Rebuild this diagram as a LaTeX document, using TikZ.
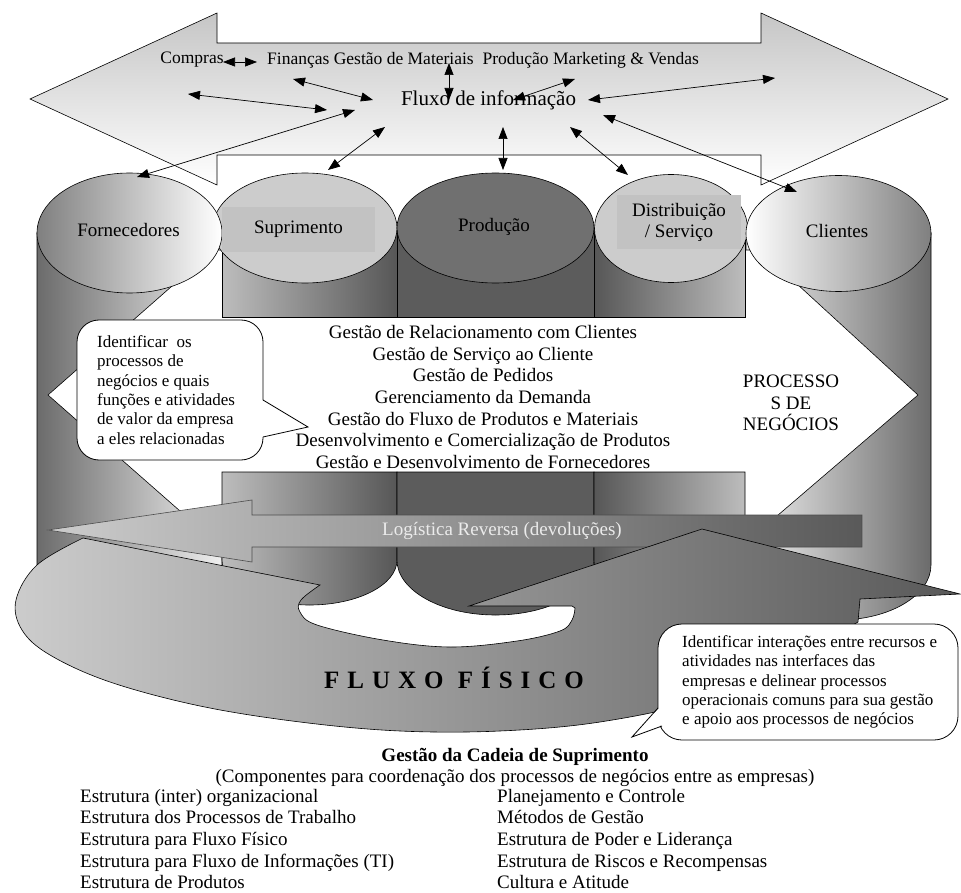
\documentclass[tikz,border=0pt]{standalone}
\usepackage{fontspec}
\setmainfont{Liberation Serif}
\usetikzlibrary{arrows.meta}

\definecolor{fornDark}{gray}{0.42}
\definecolor{fornLight}{gray}{0.94}
\definecolor{topDark}{gray}{0.50}
\definecolor{lightTop}{gray}{0.80}
\definecolor{labelBox}{gray}{0.76}
\definecolor{prodTop}{gray}{0.44}
\definecolor{prodBody}{gray}{0.36}
\definecolor{bodyLight}{gray}{0.74}
\definecolor{bodyDark}{gray}{0.34}
\definecolor{flowLight}{gray}{0.80}
\definecolor{flowDark}{gray}{0.35}

\begin{document}
\begin{tikzpicture}[x=1pt,y=-1pt,
  outl/.style={draw=black, line width=0.6pt},
  flow/.style={{Triangle[length=12pt,width=9pt]}-{Triangle[length=12pt,width=9pt]}, line width=0.7pt},
  bubble/.style={draw=black, fill=white, line width=0.8pt},
  lbl/.style={font=\fontsize{19}{21.7}\selectfont, inner sep=0pt},
  note/.style={font=\fontsize{17}{19.3}\selectfont, inner sep=0pt, align=left, anchor=west}]
\useasboundingbox (0,0) rectangle (961,893);

\path[outl, top color=gray!45, bottom color=white]
  (30,99) -- (217,13) -- (217,43) -- (761,43) -- (761,13) -- (948,99)
  -- (761,185) -- (761,155) -- (217,155) -- (217,185) -- cycle;

\path[outl, left color=fornDark, right color=fornLight]
  (37,233) -- (37,565) arc[start angle=180, end angle=0, x radius=92.5, y radius=55] -- (222,233) -- cycle;
\path[outl, left color=fornLight, right color=fornDark]
  (746,233) -- (746,565) arc[start angle=180, end angle=0, x radius=92.5, y radius=55] -- (931,233) -- cycle;

\path[outl, fill=white] (48,395) -- (213,250) -- (760,250) -- (918,395) -- (749,540) -- (213,540) -- cycle;

\path[outl, left color=bodyLight, right color=bodyDark] (222,228) rectangle (397,317);
\path[outl, fill=prodBody] (397,228) rectangle (594,317);
\path[outl, left color=bodyDark, right color=bodyLight] (594,228) rectangle (745,317);
\path[outl, fill=lightTop] (305,228) ellipse[x radius=92, y radius=55];
\path[outl, fill=prodTop] (495.5,228) ellipse[x radius=98.5, y radius=55];
\path[outl, fill=lightTop] (671,228.5) ellipse[x radius=76.5, y radius=54];

\path[outl, left color=bodyLight, right color=bodyDark]
  (222,472) -- (222,560) arc[start angle=180, end angle=0, x radius=87.5, y radius=45] -- (397,472) -- cycle;
\path[outl, fill=prodBody]
  (397,472) -- (397,560) arc[start angle=180, end angle=0, x radius=98.5, y radius=55] -- (594,472) -- cycle;
\path[outl, left color=bodyDark, right color=bodyLight]
  (594,472) -- (594,560) arc[start angle=180, end angle=0, x radius=75.5, y radius=48] -- (745,472) -- cycle;

\path[outl, left color=topDark, right color=white] (129.5,233) ellipse[x radius=92.5, y radius=60];
\path[outl, left color=white, right color=topDark] (838.5,233.5) ellipse[x radius=92.5, y radius=58];

\node[lbl] (forn) at (128.5,230) {Fornecedores};
\node[lbl, fill=labelBox, minimum width=153pt, minimum height=45pt] (supr) at (298.5,229.5) {Suprimento};
\node[lbl] (prod) at (494,227) {Produção};
\node[lbl, fill=labelBox, minimum width=124pt, minimum height=54pt, align=center] (dist) at (679,222.5) {Distribuição\\/ Serviço};
\node[lbl] (clie) at (837,231) {Clientes};

\path[draw=black!70, line width=0.6pt, left color=flowLight, right color=flowDark]
  (48,530) -- (252,500) -- (252,515) -- (862,515) -- (862,547) -- (252,547) -- (252,562) -- cycle;
\node[lbl, text=white!92!black] (logistica) at (502,531) {Logística Reversa (devoluções)};

\path[outl, left color=flowLight, right color=flowDark]
  plot[smooth, tension=0.6] coordinates {(83,538) (37,565) (16,600) (22,630) (50,655) (110,682) (200,706)
    (300,722) (400,731) (500,731) (600,722) (700,700) (790,660) (858,622)}
  -- (860,599) -- (960,594) -- (702,529) -- (469,606) -- (572,606)
  -- plot[smooth, tension=0.6] coordinates {(575,608) (572,620) (560,631) (517,641) (450,647) (383,640)
    (317,625) (300,612) (301,600) (320,585)} -- cycle;
\node[font=\fontsize{25}{30}\selectfont\bfseries\addfontfeatures{LetterSpace=32}, inner sep=0pt] (fisico) at (454,678) {FLUXO FÍSICO};

\path[bubble, rounded corners=22] (77,320) rectangle (263,460);
\fill[white] (262,400) -- (308,427) -- (262,437) -- cycle;
\draw[line width=0.8pt] (263,400) -- (308,427) -- (263,437);
\node[note] (notaA) at (97,390) {Identificar\ \ os\\processos de\\negócios e quais\\funções e atividades\\de valor da empresa\\a eles relacionadas};

\path[bubble, rounded corners=24] (658,624) rectangle (958,740);
\fill[white] (659,708) -- (632,737) -- (662,725) -- (659,716) -- cycle;
\draw[line width=0.8pt] (658,708) -- (632,737) -- (662,726);
\node[note] (notaB) at (682,682) {Identificar interações entre recursos e\\atividades nas interfaces das\\empresas e delinear processos\\operacionais comuns para sua gestão\\e apoio aos processos de negócios};

\node[lbl, align=center] (processos) at (483,397) {Gestão de Relacionamento com Clientes\\Gestão de Serviço ao Cliente\\Gestão de Pedidos\\Gerenciamento da Demanda\\Gestão do Fluxo de Produtos e Materiais\\Desenvolvimento e Comercialização de Produtos\\Gestão e Desenvolvimento de Fornecedores};
\node[lbl, align=center] (negocios) at (791,403) {PROCESSO\\S DE\\NEGÓCIOS};

\node[font=\fontsize{17.5}{20}\selectfont, inner sep=0pt] (compras) at (192,60) {Compras};
\node[font=\fontsize{17.5}{20}\selectfont, inner sep=0pt] (areas) at (483,60) {Finanças Gestão de Materiais~ Produção Marketing \& Vendas};
\node[font=\fontsize{21}{24}\selectfont, inner sep=0pt] (fluxo) at (488.5,100) {Fluxo de informação};

\foreach \n/\ax/\ay/\bx/\by in {cmp/223/62/257/62, fa/188/94/327/110, fb/293/79/373/100, fc/449/63/449/100,
    fd/575/79/513/100, fe/775/78/588/100, ff/355/110/137/177, fg/385/127/328/170,
    fh/503/127/503/170, fi/570/127/628/175, fj/603/115/797/192}
{
  \coordinate (\n1) at (\ax,\ay);
  \coordinate (\n2) at (\bx,\by);
  \draw[flow] (\n1) -- (\n2);
}

\node[font=\fontsize{19}{22}\selectfont\bfseries, inner sep=0pt] (gcs) at (515,757) {Gestão da Cadeia de Suprimento};
\node[lbl] (componentes) at (515,778) {(Componentes para coordenação dos processos de negócios entre as empresas)};
\node[lbl, align=left, anchor=west] (colA) at (80,839) {Estrutura (inter) organizacional\\Estrutura dos Processos de Trabalho\\Estrutura para Fluxo Físico\\Estrutura para Fluxo de Informações (TI)\\Estrutura de Produtos};
\node[lbl, align=left, anchor=west] (colB) at (497,839) {Planejamento e Controle\\Métodos de Gestão\\Estrutura de Poder e Liderança\\Estrutura de Riscos e Recompensas\\Cultura e Atitude};
\end{tikzpicture}
\end{document}
